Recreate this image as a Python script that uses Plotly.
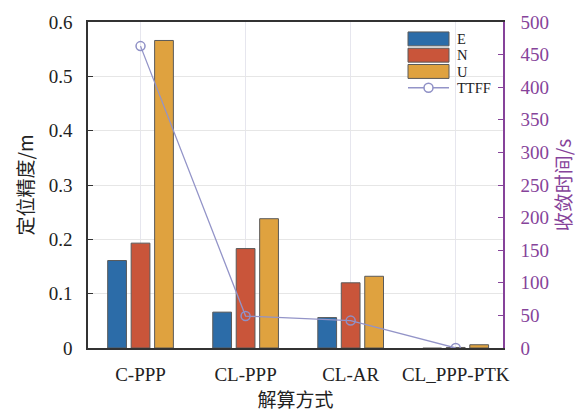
import plotly.graph_objects as go

# Solution modes and per-component positioning accuracy (m)
modes = ["C-PPP", "CL-PPP", "CL-AR", "CL_PPP-PTK"]
acc_e = [0.161, 0.066, 0.056, -0.002]
acc_n = [0.193, 0.183, 0.120, 0.001]
acc_u = [0.566, 0.238, 0.132, 0.006]
# Convergence time (s)
ttff = [463, 49, 42, 0]

serif = "Liberation Serif"
cjk = "Noto Sans CJK SC"
purple = "#86439a"
edge = "#5a5a5a"
line_col = "#9394c8"
bar_series = [("E", acc_e, "#2c6ca8"), ("N", acc_n, "#c9553a"), ("U", acc_u, "#dfa23f")]

W, H = 587, 412
ML, MR, MT, MB = 88, 84, 22, 62
PW, PH = W - ML - MR, H - MT - MB


def px(x):
    return (x - ML) / PW


def py(y):
    return (H - MB - y) / PH


fig = go.Figure()
for name, vals, col in bar_series:
    fig.add_trace(go.Bar(
        x=modes, y=vals, name=name, showlegend=False,
        marker=dict(color=col, line=dict(color=edge, width=1)),
    ))

fig.add_trace(go.Scatter(
    x=modes, y=ttff, name="TTFF", yaxis="y2", mode="lines+markers", showlegend=False,
    line=dict(color=line_col, width=1.3),
    marker=dict(symbol="circle-open", size=9, color="#8f90c6", line=dict(width=1.5)),
))

# Key in the upper right: wide swatches for the bars, a line with a ring for TTFF.
# The labels sit in one multi-line annotation; the base font size sets the line
# pitch, while the glyphs are sized through a span style.
base_fs = 12.6
glyph_fs = 14.5
pitch = 1.3 * base_fs
first_row = 39
key_names = [s[0] for s in bar_series] + ["TTFF"]
key_rows = [first_row + i * pitch for i in range(len(key_names))]
key_x0, key_x1, key_tx = 408, 449, 456

shapes = []
for (name, _, col), yc in zip(bar_series, key_rows):
    shapes.append(dict(type="rect", xref="paper", yref="paper",
                       x0=px(key_x0), x1=px(key_x1), y0=py(yc + 7), y1=py(yc - 7),
                       fillcolor=col, line=dict(color=edge, width=1)))
yc = key_rows[-1]
shapes.append(dict(type="line", xref="paper", yref="paper",
                   x0=px(key_x0), x1=px(key_x1), y0=py(yc), y1=py(yc),
                   line=dict(color=line_col, width=1.3)))
cx = (key_x0 + key_x1) / 2
shapes.append(dict(type="circle", xref="paper", yref="paper",
                   x0=px(cx - 4.5), x1=px(cx + 4.5), y0=py(yc + 4.5), y1=py(yc - 4.5),
                   fillcolor="white", line=dict(color="#8f90c6", width=1.5)))

key_text = "<br>".join(f'<span style="font-size:{glyph_fs}px">{n}</span>' for n in key_names)
annotations = [dict(
    text=key_text, xref="paper", yref="paper",
    x=px(key_tx), y=py((key_rows[0] + key_rows[-1]) / 2),
    xanchor="left", yanchor="middle", align="left", showarrow=False, borderpad=0,
    font=dict(family=serif, size=base_fs, color="#222"),
)]

fig.update_layout(
    width=W, height=H,
    margin=dict(l=ML, r=MR, t=MT, b=MB),
    paper_bgcolor="white", plot_bgcolor="white",
    barmode="group", bargap=0.33, bargroupgap=0.2,
    font=dict(family=serif, size=18, color="#222"),
    showlegend=False,
    shapes=shapes, annotations=annotations,
    xaxis=dict(
        type="category", range=[-0.5, 3.45],
        showgrid=True, gridcolor="#e6e6ee", gridwidth=1,
        showline=True, linecolor="#333", linewidth=1.5, mirror=True,
        ticks="", ticklabelstandoff=8,
        tickfont=dict(family=serif, size=19, color="#222"),
        title=dict(text="解算方式", font=dict(family=cjk, size=19, color="#222"), standoff=2),
    ),
    yaxis=dict(
        range=[0, 0.6], dtick=0.1, tickformat="~g",
        showgrid=True, gridcolor="#e6e6e6", gridwidth=1, zeroline=False,
        showline=True, linecolor="#333", linewidth=1.5,
        ticks="inside", ticklen=5, tickcolor="#333", ticklabelstandoff=10,
        tickfont=dict(family=serif, size=19, color="#222"),
        title=dict(text="定位精度/m", font=dict(family=cjk, size=19, color="#222"), standoff=10),
    ),
    yaxis2=dict(
        overlaying="y", side="right", range=[0, 500], dtick=50,
        showgrid=False, zeroline=False,
        showline=True, linecolor=purple, linewidth=1.5,
        ticks="inside", ticklen=5, tickcolor=purple, ticklabelstandoff=12,
        tickfont=dict(family=serif, size=19, color=purple),
        title=dict(text="收敛时间/s", font=dict(family=cjk, size=19, color=purple), standoff=10),
    ),
)

fig.write_html("out.html")
